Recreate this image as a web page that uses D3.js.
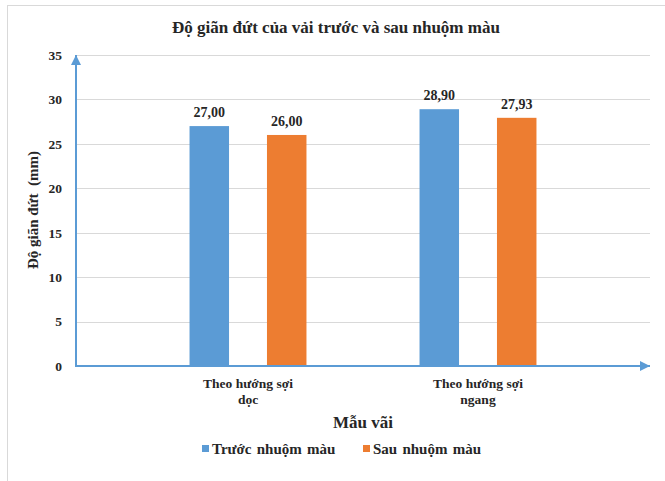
<!DOCTYPE html>
<html>
<head>
<meta charset="utf-8">
<script src="https://cdn.jsdelivr.net/npm/d3@7"></script>
</head>
<body style="margin:0">
<svg id="chart" width="665" height="481"></svg>
<script>
// Fabric samples and measured elongation at break (mm)
const categories = [["Theo hướng sợi", "dọc"], ["Theo hướng sợi", "ngang"]];
const seriesNames = ["Trước nhuộm màu", "Sau nhuộm màu"];
const beforeDye = [27.00, 28.90];
const afterDye = [26.00, 27.93];
const yTicks = [0, 5, 10, 15, 20, 25, 30, 35];
const colors = ["#5B9BD5", "#ED7D31"];

const TXT = "#262626";

const svg = d3.select("#chart");
const W = 665, H = 481;

function label(sel, size) {
  return sel.style("font-family", '"Liberation Serif"').style("font-weight", "bold")
    .style("font-size", size + "px").style("fill", TXT);
}

// outer chart frame
svg.append("rect").attr("x", 7.5).attr("y", 5.5).attr("width", W + 10).attr("height", H + 10)
  .attr("fill", "#fff").attr("stroke", "#d9d9d9").attr("stroke-width", 1);

const plotLeft = 76, plotRight = 650, plotTop = 55, plotBottom = 366;

const y = d3.scaleLinear().domain([0, 35]).range([plotBottom, plotTop]);
const x0 = d3.scaleBand().domain(d3.range(categories.length)).range([133, 593]).paddingInner(0).paddingOuter(0);
const x1 = d3.scaleBand().domain(d3.range(seriesNames.length)).range([0, x0.bandwidth()]).paddingInner(0.49).paddingOuter(0.73);

// title
label(svg.append("text"), 17).attr("x", 336).attr("y", 33).attr("text-anchor", "middle")
  .text("Độ giãn đứt của vải trước và sau nhuộm màu");

// gridlines
svg.append("g").selectAll("line").data(yTicks.filter(d => d > 0)).join("line")
  .attr("x1", plotLeft).attr("x2", plotRight)
  .attr("y1", d => Math.round(y(d)) + 0.5).attr("y2", d => Math.round(y(d)) + 0.5)
  .attr("stroke", "#d9d9d9").attr("stroke-width", 1);

// y axis tick labels
const yAxis = d3.axisLeft(y).tickValues(yTicks).tickSize(0).tickPadding(14).tickFormat(d3.format("d"));
const gy = svg.append("g").attr("transform", `translate(${plotLeft},0)`).call(yAxis)
  .attr("font-family", '"Liberation Serif"').attr("font-size", 13);
gy.select(".domain").remove();
label(gy.selectAll("text"), 13.5);

// bars
const data = categories.map((c, i) => [beforeDye[i], afterDye[i]]);
const groups = svg.append("g").selectAll("g").data(data).join("g")
  .attr("transform", (d, i) => `translate(${x0(i)},0)`);
groups.selectAll("rect").data(d => d).join("rect")
  .attr("x", (d, j) => x1(j)).attr("width", x1.bandwidth())
  .attr("y", d => y(d)).attr("height", d => y(0) - y(d))
  .attr("fill", (d, j) => colors[j]);
label(groups.selectAll("text.val").data(d => d).join("text").attr("class", "val"), 14)
  .attr("x", (d, j) => x1(j) + x1.bandwidth() / 2).attr("y", d => y(d) - 9)
  .attr("text-anchor", "middle")
  .text(d => d.toFixed(2).replace(".", ","));

// axes with arrowheads
const defs = svg.append("defs");
defs.append("marker").attr("id", "arrow").attr("viewBox", "0 0 10 10")
  .attr("refX", 10).attr("refY", 5).attr("markerWidth", 5).attr("markerHeight", 5)
  .attr("markerUnits", "strokeWidth").attr("orient", "auto")
  .append("path").attr("d", "M0,0 L10,5 L0,10 Z").attr("fill", "#5B9BD5");

svg.append("line").attr("x1", plotLeft).attr("y1", plotBottom).attr("x2", plotLeft).attr("y2", plotTop)
  .attr("stroke", "#5B9BD5").attr("stroke-width", 2).attr("marker-end", "url(#arrow)");
svg.append("line").attr("x1", plotLeft - 1).attr("y1", plotBottom).attr("x2", plotRight).attr("y2", plotBottom)
  .attr("stroke", "#5B9BD5").attr("stroke-width", 2).attr("marker-end", "url(#arrow)");

// category labels, two lines each
const catG = svg.append("g").selectAll("g").data(categories).join("g")
  .attr("transform", (d, i) => `translate(${x0(i) + x0.bandwidth() / 2},388)`);
label(catG.selectAll("text").data(d => d).join("text"), 13.5)
  .attr("x", 0).attr("y", (d, k) => k * 16).attr("text-anchor", "middle").text(d => d);

// x axis title
label(svg.append("text"), 17).attr("x", 363).attr("y", 428).attr("text-anchor", "middle")
  .text("Mẫu vãi");

// y axis title
label(svg.append("text"), 15).attr("transform", "translate(38,210) rotate(-90)").attr("text-anchor", "middle")
  .style("white-space", "pre").text("Độ giãn đứt  (mm)");

// legend
const legendX = [202, 363];
const lg = svg.append("g").selectAll("g").data(seriesNames).join("g")
  .attr("transform", (d, i) => `translate(${legendX[i]},449)`);
lg.append("rect").attr("x", 0).attr("y", -4).attr("width", 7).attr("height", 7).attr("fill", (d, i) => colors[i]);
label(lg.append("text"), 15).attr("x", 10).attr("y", 5).style("word-spacing", "1.5px").text(d => d);
</script>
</body>
</html>
